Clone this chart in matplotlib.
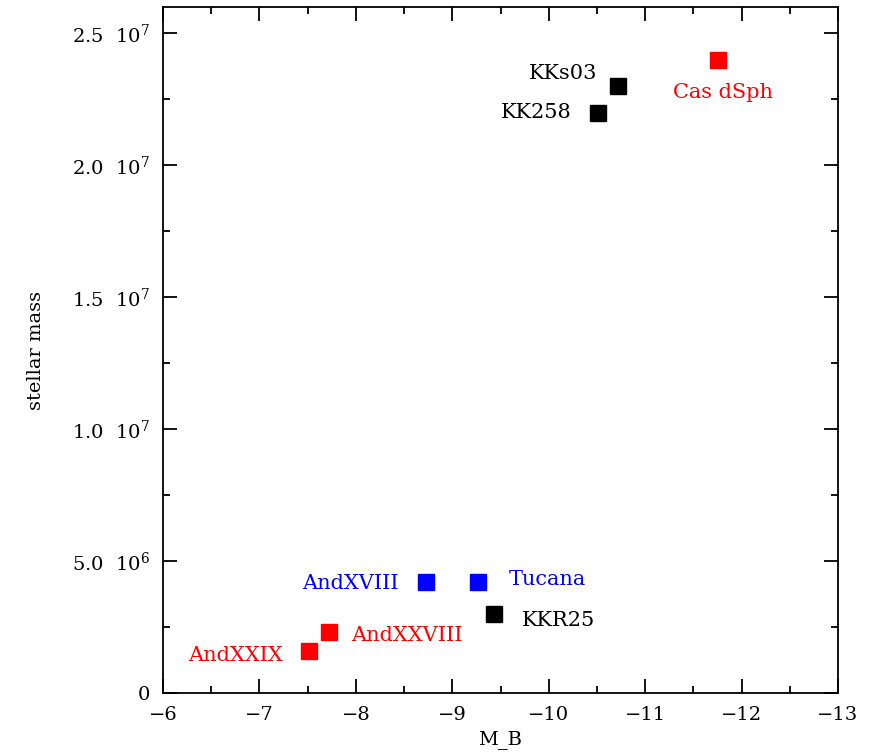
import numpy as np
import matplotlib
matplotlib.use("Agg")
import matplotlib.pyplot as plt
from matplotlib.ticker import MultipleLocator

plt.rcParams['font.family'] = 'DejaVu Serif'
plt.rcParams['mathtext.fontset'] = 'dejavuserif'

# galaxies: absolute B magnitude and stellar mass
names = ['Cas dSph', 'KKs03', 'KK258', 'AndXVIII', 'Tucana', 'KKR25', 'AndXXVIII', 'AndXXIX']
M_B = [-11.76, -10.72, -10.51, -8.73, -9.27, -9.43, -7.72, -7.51]
mass = [2.40e7, 2.30e7, 2.20e7, 4.2e6, 4.2e6, 3.0e6, 2.3e6, 1.6e6]
colors = ['red', 'black', 'black', 'blue', 'blue', 'black', 'red', 'red']

ytick_vals = [0, 5e6, 1e7, 1.5e7, 2e7, 2.5e7]
ytick_txt = ['0', r'5.0  $10^{6}$', r'1.0  $10^{7}$', r'1.5  $10^{7}$',
             r'2.0  $10^{7}$', r'2.5  $10^{7}$']

# label placement (pixels from the point)
offs = {'Cas dSph': (5, -33, 'center'), 'KKs03': (-21, 13, 'right'),
        'KK258': (-26, 0, 'right'), 'AndXVIII': (-28, -1, 'right'),
        'Tucana': (30, 3, 'left'), 'KKR25': (28, -7, 'left'),
        'AndXXVIII': (22, -3, 'left'), 'AndXXIX': (-26, -5, 'right')}

fig = plt.figure(figsize=(8.7, 7.56), dpi=100)
ax = fig.add_axes([0.1874, 0.0833, 0.7758, 0.9074])

for n, x, y, c in zip(names, M_B, mass, colors):
    ax.plot(x, y, 's', color=c, markersize=11)
    dx, dy, ha = offs[n]
    ax.annotate(n, (x, y), xytext=(dx, dy), textcoords='offset pixels',
                ha=ha, va='center', color=c, fontsize=15)

ax.set_xlim(-6, -13)
ax.set_ylim(0, 2.6e7)
ax.xaxis.set_major_locator(MultipleLocator(1))
ax.xaxis.set_minor_locator(MultipleLocator(0.5))
ax.set_yticks(ytick_vals, ytick_txt)
ax.yaxis.set_minor_locator(MultipleLocator(2.5e6))
ax.tick_params(which='both', direction='in', top=True, right=True, width=1.3, labelsize=14)
ax.tick_params(which='major', length=10, pad=9)
ax.tick_params(which='minor', length=5)
for s in ax.spines.values():
    s.set_linewidth(1.3)

ax.set_xlabel('M_B', fontsize=14, labelpad=5)
ax.set_ylabel('stellar mass', fontsize=14, labelpad=20)

plt.savefig('out.png')
